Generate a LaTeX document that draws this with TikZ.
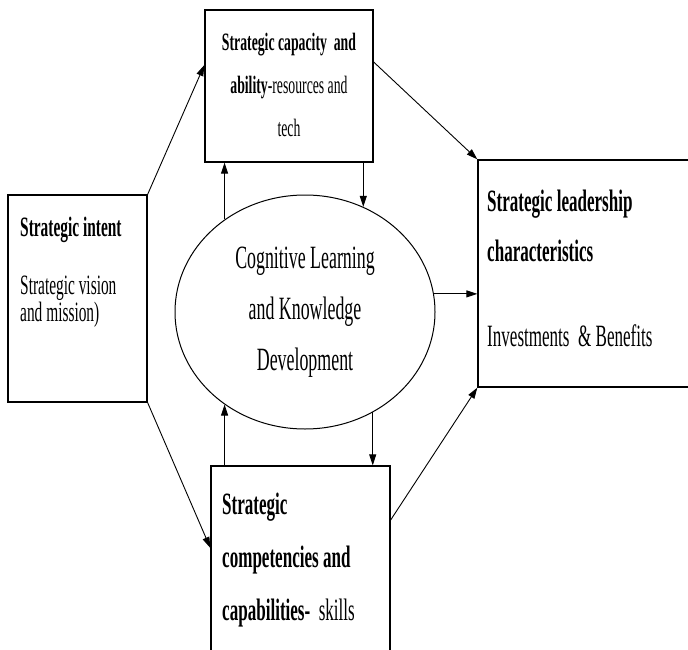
\documentclass[tikz,border=0pt]{standalone}
\usepackage{fontspec}
\newfontfamily\narrowserif[FakeStretch=0.55]{Liberation Serif}
\usetikzlibrary{arrows.meta,shapes.geometric}

\begin{document}
\begin{tikzpicture}[x=1pt,y=-1pt,
  box/.style={draw,line width=1.3pt,inner sep=0pt},
  arr/.style={line width=.9pt,-{Triangle[length=11pt,width=7pt]}},
  lbl/.style={inner sep=0pt,align=left,anchor=west}]
\useasboundingbox (0,0) rectangle (688,650);
\node[box,minimum width=168,minimum height=152] (capacity) at (289,86) {};
\node[box,minimum width=139,minimum height=207] (intent) at (77.5,298.5) {};
\node[box,minimum width=240,minimum height=227] (lead) at (598,273.5) {};
\node[box,minimum width=179,minimum height=224] (compet) at (300.5,578) {};
\node[draw,ellipse,line width=1pt,minimum width=260,minimum height=234,inner sep=0pt,align=center,
  font=\narrowserif\fontsize{32.5}{51}\selectfont] (cog) at (305,312)
  {Cognitive Learning\\ and Knowledge\\ Development};
\node[lbl,anchor=center,align=center,font=\narrowserif\fontsize{25}{43}\selectfont] (capacitytxt) at (289,85)
  {\textbf{Strategic capacity\ \ and}\\ \textbf{ability}-resources and\\ tech};
\node[lbl,font=\narrowserif\fontsize{28}{27}\selectfont] (intenttxt) at (20,272)
  {\textbf{Strategic intent}\\[31pt] Strategic vision\\ and mission)};
\node[lbl,font=\narrowserif\fontsize{31}{50}\selectfont] (leadtxt) at (487,268)
  {\textbf{Strategic leadership}\\ \textbf{characteristics}\\[35pt] Investments\ \ \& Benefits};
\node[lbl,font=\narrowserif\fontsize{31}{53}\selectfont] (compettxt) at (222,560)
  {\textbf{Strategic}\\ \textbf{competencies and}\\ \textbf{capabilities-}\ \ skills};
\draw[arr] (intent.north east) -- ([yshift=21pt]capacity.west);
\draw[arr] (intent.south east) -- ([yshift=30pt]compet.west);
\draw[arr] ([yshift=24pt]capacity.east) -- (lead.north west);
\draw[arr] ([yshift=58pt]compet.east) -- (lead.south west);
\draw[arr] (cog.8) -- (cog.8 -| lead.west);
\draw[arr] (cog.61 |- capacity.south) -- (cog.61);
\draw[arr] (cog.131) -- (cog.131 |- capacity.south);
\draw[arr] (cog.304) -- (cog.304 |- compet.north);
\draw[arr] (cog.229 |- compet.north) -- (cog.229);
\end{tikzpicture}
\end{document}
